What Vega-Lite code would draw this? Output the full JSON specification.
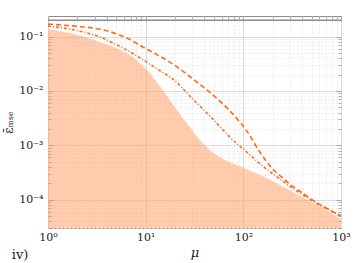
{
  "$schema": "https://vega.github.io/schema/vega-lite/v6.json",
  "width": 293,
  "height": 212,
  "autosize": "none",
  "padding": {"left": 48, "top": 16, "right": 16, "bottom": 35},
  "config": {
    "view": {"stroke": "#8c8c8c", "strokeWidth": 1},
    "axis": {"labelFont": "DejaVu Serif", "titleFont": "DejaVu Serif", "labelColor": "#222", "titleColor": "#222", "domain": false}
  },
  "title": {"text": "iv)", "orient": "bottom", "anchor": "start", "dx": 9, "offset": -10, "font": "DejaVu Serif", "fontSize": 13, "fontWeight": "normal", "color": "#222"},
  "datasets": {
    "shade": [
      {"mu": 1, "v": 0.1374}, {"mu": 1.889, "v": 0.1112}, {"mu": 3.406, "v": 0.0792}, {"mu": 5.08, "v": 0.0614},
      {"mu": 6.14, "v": 0.0518}, {"mu": 7.41, "v": 0.0419}, {"mu": 8.95, "v": 0.0312}, {"mu": 11.07, "v": 0.0213},
      {"mu": 13.05, "v": 0.0145}, {"mu": 19.03, "v": 0.00571},
      {"mu": 22.44, "v": 0.00374}, {"mu": 28.4, "v": 0.00215}, {"mu": 35.96, "v": 0.00124}, {"mu": 45.5, "v": 0.000812},
      {"mu": 57.6, "v": 0.000604}, {"mu": 92.3, "v": 0.000412}, {"mu": 158.7, "v": 0.00027}, {"mu": 353.7, "v": 0.000126},
      {"mu": 769, "v": 0.0000586}, {"mu": 1000, "v": 0.0000435}
    ],
    "curves": [
      {"mu": 1, "v": 0.17, "s": "dashed"}, {"mu": 1.889, "v": 0.156, "s": "dashed"}, {"mu": 3.406, "v": 0.137, "s": "dashed"},
      {"mu": 6.14, "v": 0.098, "s": "dashed"}, {"mu": 9.84, "v": 0.0614, "s": "dashed"}, {"mu": 19.03, "v": 0.0312, "s": "dashed"},
      {"mu": 33.5, "v": 0.0145, "s": "dashed"}, {"mu": 57.6, "v": 0.00649, "s": "dashed"}, {"mu": 92.3, "v": 0.00266, "s": "dashed"},
      {"mu": 108.8, "v": 0.00182, "s": "dashed"}, {"mu": 147.9, "v": 0.000746, "s": "dashed"}, {"mu": 201, "v": 0.000363, "s": "dashed"},
      {"mu": 248, "v": 0.000259, "s": "dashed"}, {"mu": 300, "v": 0.000192, "s": "dashed"}, {"mu": 353.7, "v": 0.000156, "s": "dashed"},
      {"mu": 515, "v": 0.0000975, "s": "dashed"}, {"mu": 1000, "v": 0.0000505, "s": "dashed"},
      {"mu": 1, "v": 0.156, "s": "dashdot"}, {"mu": 1.889, "v": 0.1318, "s": "dashdot"}, {"mu": 3.406, "v": 0.098, "s": "dashdot"},
      {"mu": 6.14, "v": 0.0589, "s": "dashdot"}, {"mu": 9.17, "v": 0.0385, "s": "dashdot"}, {"mu": 14.0, "v": 0.0236, "s": "dashdot"},
      {"mu": 19.03, "v": 0.0165, "s": "dashdot"}, {"mu": 30.5, "v": 0.00706, "s": "dashdot"}, {"mu": 48.8, "v": 0.00303, "s": "dashdot"},
      {"mu": 72.9, "v": 0.00141, "s": "dashdot"}, {"mu": 108.8, "v": 0.000746, "s": "dashdot"}, {"mu": 158.7, "v": 0.000412, "s": "dashdot"},
      {"mu": 237, "v": 0.000238, "s": "dashdot"}, {"mu": 353.7, "v": 0.000143, "s": "dashdot"}, {"mu": 515, "v": 0.0000935, "s": "dashdot"},
      {"mu": 1000, "v": 0.0000494, "s": "dashdot"}
    ],
    "ref": [{"v": 0.2}]
  },
  "layer": [
    {
      "data": {"name": "shade"},
      "mark": {"type": "area", "color": "#ff9a5c", "opacity": 0.5, "clip": true, "interpolate": "monotone"},
      "encoding": {
        "x": {"field": "mu", "type": "quantitative", "scale": {"type": "log", "domain": [1, 1000], "nice": false},
          "axis": {"orient": "bottom", "title": "μ", "titleFontStyle": "italic", "titleFontWeight": "normal", "titleFontSize": 13, "titlePadding": 4,
            "values": [1,2,3,4,5,6,7,8,9,10,20,30,40,50,60,70,80,90,100,200,300,400,500,600,700,800,900,1000],
            "labelExpr": "abs(log(datum.value)/LN10 - round(log(datum.value)/LN10)) < 0.001 ? ['10⁰','10¹','10²','10³'][round(log(datum.value)/LN10)] : ''",
            "labelOverlap": false, "labelFlush": false, "labelFontSize": 11, "labelPadding": 3, "ticks": false,
            "grid": true,
            "gridColor": {"condition": {"test": "abs(log(datum.value)/LN10 - round(log(datum.value)/LN10)) < 0.001", "value": "#dcdcdc"}, "value": "#ececec"},
            "gridDash": {"condition": {"test": "abs(log(datum.value)/LN10 - round(log(datum.value)/LN10)) < 0.001", "value": []}, "value": [2, 2]}}},
        "y": {"field": "v", "type": "quantitative", "scale": {"type": "log", "domain": [0.00003, 0.24], "nice": false},
          "axis": {"orient": "left", "title": "ε̄ₘₛₑ", "titleFontWeight": "normal", "titleFontSize": 12, "titlePadding": 3,
            "values": [0.00003,0.00004,0.00005,0.00006,0.00007,0.00008,0.00009,0.0001,0.0002,0.0003,0.0004,0.0005,0.0006,0.0007,0.0008,0.0009,0.001,0.002,0.003,0.004,0.005,0.006,0.007,0.008,0.009,0.01,0.02,0.03,0.04,0.05,0.06,0.07,0.08,0.09,0.1,0.2],
            "labelExpr": "abs(log(datum.value)/LN10 - round(log(datum.value)/LN10)) < 0.001 ? ['10⁻⁴','10⁻³','10⁻²','10⁻¹'][round(log(datum.value)/LN10)+4] : ''",
            "labelOverlap": false, "labelFlush": false, "labelFontSize": 11, "labelPadding": 5, "ticks": false,
            "grid": true,
            "gridColor": {"condition": {"test": "abs(log(datum.value)/LN10 - round(log(datum.value)/LN10)) < 0.001", "value": "#dcdcdc"}, "value": "#ececec"},
            "gridDash": {"condition": {"test": "abs(log(datum.value)/LN10 - round(log(datum.value)/LN10)) < 0.001", "value": []}, "value": [2, 2]}}},
        "y2": {"datum": 0.00003}
      }
    },
    {
      "data": {"name": "ref"},
      "mark": {"type": "rule", "color": "#8c8c8c", "strokeWidth": 1.5},
      "encoding": {
        "y": {"field": "v", "type": "quantitative",
          "axis": {"orient": "left", "title": null, "labels": false, "grid": false, "tickColor": "#8c8c8c", "tickWidth": 0.7,
            "values": [0.00003,0.00004,0.00005,0.00006,0.00007,0.00008,0.00009,0.0001,0.0002,0.0003,0.0004,0.0005,0.0006,0.0007,0.0008,0.0009,0.001,0.002,0.003,0.004,0.005,0.006,0.007,0.008,0.009,0.01,0.02,0.03,0.04,0.05,0.06,0.07,0.08,0.09,0.1,0.2],
            "tickSize": {"condition": {"test": "abs(log(datum.value)/LN10 - round(log(datum.value)/LN10)) < 0.001", "value": -5}, "value": -3}}}
      }
    },
    {
      "data": {"name": "curves"},
      "mark": {"type": "line", "color": "#ff6a1a", "strokeWidth": 1.6, "clip": true, "interpolate": "monotone"},
      "encoding": {
        "x": {"field": "mu", "type": "quantitative",
          "axis": {"orient": "top", "title": null, "labels": false, "grid": false, "tickColor": "#8c8c8c", "tickWidth": 0.7,
            "values": [1,2,3,4,5,6,7,8,9,10,20,30,40,50,60,70,80,90,100,200,300,400,500,600,700,800,900,1000],
            "tickSize": {"condition": {"test": "abs(log(datum.value)/LN10 - round(log(datum.value)/LN10)) < 0.001", "value": -5}, "value": -3}}},
        "y": {"field": "v", "type": "quantitative",
          "axis": {"orient": "right", "title": null, "labels": false, "grid": false, "tickColor": "#8c8c8c", "tickWidth": 0.7,
            "values": [0.00003,0.00004,0.00005,0.00006,0.00007,0.00008,0.00009,0.0001,0.0002,0.0003,0.0004,0.0005,0.0006,0.0007,0.0008,0.0009,0.001,0.002,0.003,0.004,0.005,0.006,0.007,0.008,0.009,0.01,0.02,0.03,0.04,0.05,0.06,0.07,0.08,0.09,0.1,0.2],
            "tickSize": {"condition": {"test": "abs(log(datum.value)/LN10 - round(log(datum.value)/LN10)) < 0.001", "value": -5}, "value": -3}}},
        "detail": {"field": "s", "type": "nominal"},
        "strokeDash": {"field": "s", "type": "nominal", "scale": {"domain": ["dashed", "dashdot"], "range": [[5, 3], [3, 2, 1, 2]]}, "legend": null}
      }
    }
  ],
  "resolve": {"axis": {"x": "independent", "y": "independent"}}
}
